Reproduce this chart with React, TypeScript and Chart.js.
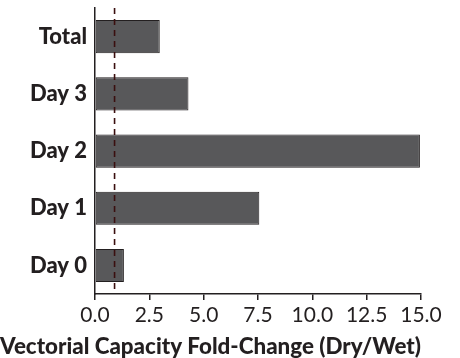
import React, { useEffect, useRef } from "react";
import { Chart, registerables } from "chart.js";

Chart.register(...registerables);

const categories = ["Total", "Day 3", "Day 2", "Day 1", "Day 0"];
const foldChange = [2.98, 4.3, 14.95, 7.56, 1.33];
const referenceValue = 0.9;
const xTicks = [0, 2.5, 5, 7.5, 10, 12.5, 15];
const axisTitle = "Vectorial Capacity Fold-Change (Dry/Wet)";

const FONT = "Lato, 'Noto Sans', sans-serif";
const TEXT = "#231f20";

const refLinePlugin = {
  id: "refLine",
  afterDatasetsDraw(chart: any) {
    const { ctx, chartArea, scales } = chart;
    const x = scales.x.getPixelForValue(referenceValue);
    ctx.save();
    ctx.strokeStyle = "#3a0f0f";
    ctx.lineWidth = 1.6;
    ctx.setLineDash([6, 5]);
    ctx.beginPath();
    ctx.moveTo(x, chartArea.top);
    ctx.lineTo(x, chartArea.bottom);
    ctx.stroke();
    ctx.restore();
  },
};

export default function App() {
  const ref = useRef<HTMLCanvasElement>(null);
  useEffect(() => {
    document.body.style.margin = "0";
    const chart = new Chart(ref.current!, {
      type: "bar",
      data: {
        labels: categories,
        datasets: [
          {
            data: foldChange,
            backgroundColor: "#58585a",
            borderColor: "#231f20",
            borderWidth: 1,
            borderSkipped: false,
            categoryPercentage: 1,
            barPercentage: 0.58,
          },
        ],
      },
      options: {
        indexAxis: "y",
        responsive: false,
        animation: false,
        layout: { padding: { top: 8, right: 39, left: 0, bottom: 0 } },
        plugins: {
          legend: { display: false },
          tooltip: { enabled: false },
          title: {
            display: true,
            position: "bottom",
            text: axisTitle,
            color: TEXT,
            font: { family: FONT, size: 22.9, weight: 900, lineHeight: 1 },
            padding: { top: 6, bottom: 0 },
          },
        },
        scales: {
          x: {
            type: "linear",
            min: 0,
            max: 15,
            afterBuildTicks: (scale: any) => {
              scale.ticks = xTicks.map((v) => ({ value: v }));
            },
            ticks: {
              color: TEXT,
              font: { family: FONT, size: 21 },
              padding: 3,
              maxRotation: 0,
              callback: (v: any) => Number(v).toFixed(1),
            },
            grid: {
              drawOnChartArea: false,
              drawTicks: true,
              tickLength: 6,
              color: "#231f20",
              lineWidth: 1.5,
            },
            border: { display: true, color: "#231f20", width: 1.5 },
            afterFit: (scale: any) => {
              scale.height = 35;
            },
          },
          y: {
            ticks: {
              color: TEXT,
              font: { family: FONT, size: 22, weight: 900 },
              padding: 8,
            },
            grid: { display: false, drawTicks: false },
            border: { display: true, color: "#231f20", width: 1.5 },
            afterFit: (scale: any) => {
              scale.width = 95;
              scale.paddingTop = 0;
              scale.paddingBottom = 0;
            },
          },
        },
      },
      plugins: [refLinePlugin],
    });
    return () => chart.destroy();
  }, []);
  return (
    <div style={{ width: 460, height: 358 }}>
      <canvas ref={ref} width={460} height={358} />
    </div>
  );
}
